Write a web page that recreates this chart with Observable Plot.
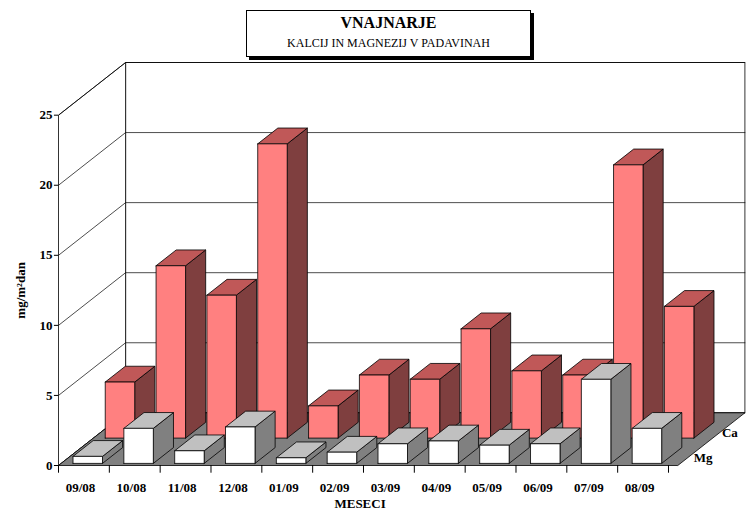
<!DOCTYPE html>
<html>
<head>
<meta charset="utf-8">
<script src="https://cdn.jsdelivr.net/npm/d3@7"></script>
<script src="https://cdn.jsdelivr.net/npm/@observablehq/plot@0.6"></script>
<style>
  body { margin: 0; background: white; font-family: "Liberation Serif", serif; }
  #wrap { position: relative; width: 751px; height: 512px; }
  #title {
    position: absolute; left: 246px; top: 10px; width: 283px; height: 45px;
    border: 1px solid black; background: white; text-align: center;
    box-shadow: 3px 3px 0 black; z-index: 2;
  }
  #title .t { font-weight: bold; font-size: 16px; margin-top: 3px; }
  #title .s { font-size: 12px; margin-top: 4px; }
</style>
</head>
<body>
<div id="wrap">
  <div id="title"><div class="t">VNAJNARJE</div><div class="s">KALCIJ IN MAGNEZIJ V PADAVINAH</div></div>
  <div id="myplot"></div>
</div>
<script>
const months = ["09/08","10/08","11/08","12/08","01/09","02/09","03/09","04/09","05/09","06/09","07/09","08/09"];
const ca = [4.0, 12.3, 10.2, 21.0, 2.3, 4.5, 4.2, 7.8, 4.8, 4.5, 19.5, 9.4];
const mg = [0.5, 2.5, 0.9, 2.6, 0.4, 0.8, 1.4, 1.6, 1.3, 1.4, 6.0, 2.5];
const yTicks = [0, 5, 10, 15, 20, 25];

// fake depth: shift in data units for d in [0,1]
const DX = 1.32, DY = 3.76;
const X0 = -0.433, XEND = 11.75;
const P = (x, y, d, id) => ({x: x + d * DX, y: y + d * DY, id});
const poly = (pts, id) => [...pts, pts[0]].map(([x, y, d]) => P(x, y, d, id));

function bars(values, d0, d1, name) {
  const front = [], top = [], side = [];
  values.forEach((v, i) => {
    const l = i - 0.2, r = i + 0.38;
    front.push(...poly([[l, 0, d0], [r, 0, d0], [r, v, d0], [l, v, d0]], name + i));
    top.push(...poly([[l, v, d0], [r, v, d0], [r, v, d1], [l, v, d1]], name + i));
    side.push(...poly([[r, 0, d0], [r, 0, d1], [r, v, d1], [r, v, d0]], name + i));
  });
  return {front, top, side};
}
const caB = bars(ca, 0.52, 0.82, "ca");
const mgB = bars(mg, 0.04, 0.34, "mg");

const backWall = poly([[X0, 0, 1], [XEND, 0, 1], [XEND, 25, 1], [X0, 25, 1]], "bw");
const leftWall = poly([[X0, 0, 0], [X0, 0, 1], [X0, 25, 1], [X0, 25, 0]], "lw");
const floor = poly([[X0, 0, 0], [XEND, 0, 0], [XEND, 0, 1], [X0, 0, 1]], "fl");
const grid = yTicks.flatMap(v => [P(X0, v, 0, "g" + v), P(X0, v, 1, "g" + v), P(XEND, v, 1, "g" + v)]);

const line = (data, fill) => Plot.line(data, {x: "x", y: "y", z: "id", fill, stroke: "black", strokeWidth: 0.8, curve: "linear"});

const plot = Plot.plot({
  width: 751,
  height: 512,
  marginLeft: 58,
  marginRight: 0,
  marginTop: 62,
  marginBottom: 47,
  x: {domain: [X0, 13.2], axis: null},
  y: {domain: [0, 25 + DY], axis: null},
  style: {fontFamily: "Liberation Serif, serif"},
  marks: [
    line(backWall, "white"),
    line(leftWall, "white"),
    Plot.line(grid, {x: "x", y: "y", z: "id", stroke: "black", strokeWidth: 0.7}),
    line(floor, "#808080"),
    line(caB.side, "#7f3f3f"),
    line(caB.top, "#c05858"),
    line(caB.front, "#ff8080"),
    line(mgB.side, "#808080"),
    line(mgB.top, "#c0c0c0"),
    line(mgB.front, "white"),
    // y axis
    Plot.ruleY(yTicks, {x1: X0 - 0.08, x2: X0, stroke: "black"}),
    Plot.text(yTicks, {x: X0 - 0.12, y: d => d, text: d => d, textAnchor: "end", fontWeight: "bold", fontSize: 13}),
    Plot.text(["mg/m²dan"], {x: X0 - 0.75, y: 12.5, rotate: -90, fontWeight: "bold", fontSize: 13}),
    // x axis
    Plot.ruleX(d3.range(13).map(k => X0 + k), {y1: 0, y2: -0.55, stroke: "black"}),
    Plot.text(months, {x: (d, i) => i, y: -1.6, text: d => d, fontWeight: "bold", fontSize: 13}),
    Plot.text(["MESECI"], {x: 5.5, y: -2.75, fontWeight: "bold", fontSize: 13}),
    // depth labels
    Plot.text([{x: XEND + 0.62 * DX + 0.05, y: 0.62 * DY, t: "Ca"}, {x: XEND + 0.2 * DX + 0.05, y: 0.2 * DY - 0.2, t: "Mg"}],
      {x: "x", y: "y", text: "t", textAnchor: "start", fontWeight: "bold", fontSize: 13})
  ]
});

document.querySelector("#myplot").append(plot);
</script>
</body>
</html>
